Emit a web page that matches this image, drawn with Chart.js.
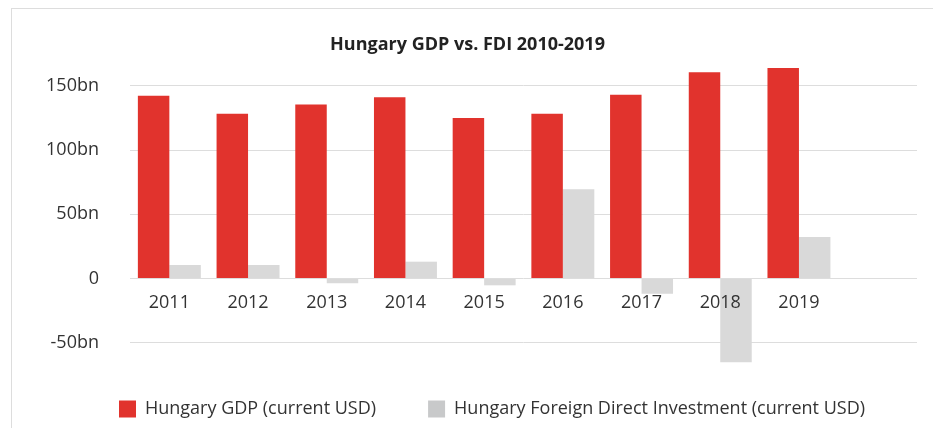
<!DOCTYPE html>
<html>
<head>
<meta charset="utf-8">
<title>Hungary GDP vs. FDI 2010-2019</title>
<script src="https://cdn.jsdelivr.net/npm/chart.js@4.4.1/dist/chart.umd.min.js"></script>
<style>
  html, body { margin: 0; padding: 0; background: #fff; overflow: hidden; }
  .frame { position: absolute; left: 11px; top: 8px; width: 1000px; height: 1000px; border: 1px solid #dddddd; }
  #wrap { position: absolute; left: 0; top: 0; width: 933px; height: 428px; }
</style>
</head>
<body>
<div class="frame"></div>
<div id="wrap"><canvas id="gdpChart"></canvas></div>
<script>
// Dữ liệu (tỷ USD)
const years = ['2011', '2012', '2013', '2014', '2015', '2016', '2017', '2018', '2019', ''];
const gdp = [142.3, 128.3, 135.4, 141.0, 125.0, 128.3, 143.0, 160.6, 163.8, null];
const fdi = [10.5, 10.5, -3.7, 13.1, -5.3, 69.5, -11.8, -65.1, 32.3, null];
const yTicks = [-50, 0, 50, 100, 150];

const TEXT = '#333333';
Chart.defaults.font.family = "'Open Sans', sans-serif";

const ctx = document.getElementById('gdpChart').getContext('2d');
new Chart(ctx, {
  type: 'bar',
  data: {
    labels: years,
    datasets: [
      {
        label: 'Hungary GDP (current USD)',
        data: gdp,
        backgroundColor: '#E1332D',
        categoryPercentage: 0.8,
        barPercentage: 1.0,
        clip: false
      },
      {
        label: 'Hungary Foreign Direct Investment (current USD)',
        data: fdi,
        backgroundColor: '#D9D9D9',
        categoryPercentage: 0.8,
        barPercentage: 1.0,
        clip: false
      }
    ]
  },
  options: {
    responsive: true,
    maintainAspectRatio: false,
    animation: false,
    layout: { padding: { left: 18, right: 16, top: 0, bottom: 0 } },
    scales: {
      x: {
        position: { y: 0 },
        grid: { display: false, drawTicks: false },
        border: { display: false },
        ticks: { padding: 14, color: TEXT, font: { size: 18 }, z: 1 }
      },
      y: {
        min: -54.1,
        max: 170.4,
        grid: { color: '#dddddd', drawTicks: false },
        border: { display: false },
        ticks: {
          padding: 31,
          color: TEXT,
          font: { size: 18 },
          callback: v => v === 0 ? '0' : v + 'bn'
        },
        afterBuildTicks: scale => {
          scale.ticks = yTicks.map(v => ({ value: v }));
        },
        afterFit: scale => { scale.width = 112; }
      }
    },
    plugins: {
      title: {
        display: true,
        text: 'Hungary GDP vs. FDI 2010-2019',
        color: '#222222',
        font: { size: 18, weight: 'bold' },
        padding: { top: 34, bottom: 4 }
      },
      legend: {
        position: 'bottom',
        align: 'end',
        maxHeight: 83.3,
        labels: {
          boxWidth: 17,
          boxHeight: 17,
          padding: 52,
          color: TEXT,
          font: { size: 18 },
          generateLabels: function (chart) {
            const items = Chart.defaults.plugins.legend.labels.generateLabels(chart);
            items[1].fillStyle = '#C8C9CA';
            items.forEach(it => { it.lineWidth = 0; it.strokeStyle = 'transparent'; });
            return items;
          }
        }
      },
      tooltip: { enabled: false }
    }
  }
});
</script>
</body>
</html>
